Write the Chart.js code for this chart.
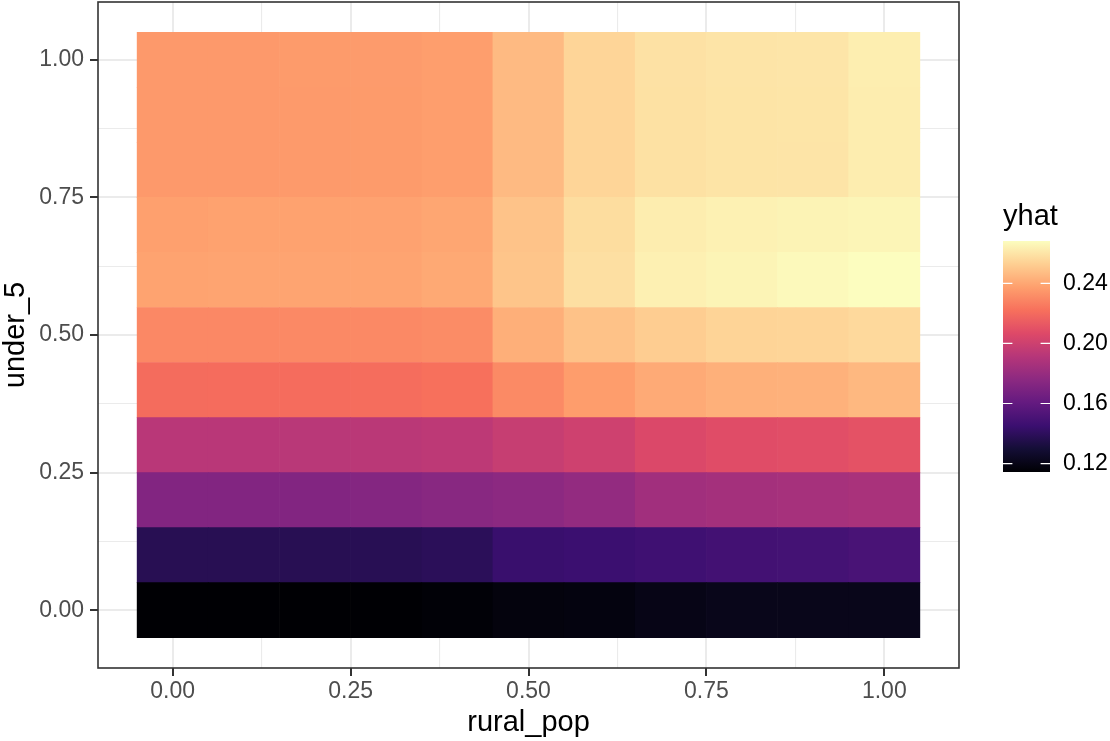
<!DOCTYPE html>
<html>
<head>
<meta charset="utf-8">
<script src="https://cdn.jsdelivr.net/npm/chart.js@4.4.1/dist/chart.umd.min.js"></script>
<style>
  html, body { margin: 0; padding: 0; background: #ffffff; }
  canvas { display: block; }
</style>
</head>
<body>
<canvas id="chart" width="1110" height="741"></canvas>
<script>
// ---------------- data ----------------
const rural_pop = [0.0, 0.1, 0.2, 0.3, 0.4, 0.5, 0.6, 0.7, 0.8, 0.9, 1.0];
const under_5   = [0.0, 0.1, 0.2, 0.3, 0.4, 0.5, 0.6, 0.7, 0.8, 0.9, 1.0];

// yhat per under_5 row, values listed along rural_pop
const yhat_u00 = [0.1144, 0.1144, 0.1145, 0.1145, 0.1152, 0.1172, 0.1178, 0.1198, 0.1212, 0.1211, 0.1213];
const yhat_u01 = [0.1375, 0.1375, 0.1376, 0.1378, 0.1390, 0.1444, 0.1452, 0.1467, 0.1482, 0.1487, 0.1505];
const yhat_u02 = [0.1721, 0.1721, 0.1722, 0.1728, 0.1744, 0.1759, 0.1785, 0.1836, 0.1847, 0.1855, 0.1865];
const yhat_u03 = [0.1925, 0.1925, 0.1926, 0.1927, 0.1940, 0.1975, 0.2005, 0.2056, 0.2079, 0.2085, 0.2102];
const yhat_u04 = [0.2205, 0.2206, 0.2206, 0.2207, 0.2221, 0.2305, 0.2368, 0.2410, 0.2428, 0.2433, 0.2454];
const yhat_u05 = [0.2300, 0.2300, 0.2301, 0.2302, 0.2313, 0.2425, 0.2487, 0.2522, 0.2545, 0.2548, 0.2562];
const yhat_u06 = [0.2387, 0.2390, 0.2390, 0.2391, 0.2405, 0.2497, 0.2582, 0.2639, 0.2651, 0.2667, 0.2682];
const yhat_u07 = [0.2377, 0.2384, 0.2384, 0.2385, 0.2396, 0.2490, 0.2574, 0.2627, 0.2642, 0.2648, 0.2656];
const yhat_u08 = [0.2354, 0.2354, 0.2359, 0.2360, 0.2371, 0.2461, 0.2548, 0.2588, 0.2597, 0.2600, 0.2628];
const yhat_u09 = [0.2354, 0.2355, 0.2359, 0.2360, 0.2371, 0.2461, 0.2548, 0.2588, 0.2597, 0.2601, 0.2628];
const yhat_u10 = [0.2355, 0.2355, 0.2360, 0.2361, 0.2372, 0.2462, 0.2549, 0.2590, 0.2599, 0.2603, 0.2631];

const yhatRows = [yhat_u00, yhat_u01, yhat_u02, yhat_u03, yhat_u04, yhat_u05,
                  yhat_u06, yhat_u07, yhat_u08, yhat_u09, yhat_u10];

const xTickValues = [0, 0.25, 0.5, 0.75, 1.0];
const xTickLabels = ['0.00', '0.25', '0.50', '0.75', '1.00'];
const yTickValues = [0, 0.25, 0.5, 0.75, 1.0];
const yTickLabels = ['0.00', '0.25', '0.50', '0.75', '1.00'];
const legendTickValues = [0.12, 0.16, 0.20, 0.24];
const legendTickLabels = ['0.12', '0.16', '0.20', '0.24'];

// ---------------- colour map (magma) ----------------
const MAGMA = ['#000004', '#140e36', '#3b0f70', '#641a80', '#8c2981', '#b63679',
               '#de4968', '#f7705c', '#fe9f6d', '#fecf92', '#fcfdbf'];
function hexRgb(h) {
  return [parseInt(h.slice(1, 3), 16), parseInt(h.slice(3, 5), 16), parseInt(h.slice(5, 7), 16)];
}
const MAGMA_RGB = MAGMA.map(hexRgb);
function magma(t) {
  t = Math.max(0, Math.min(1, t));
  const s = t * (MAGMA_RGB.length - 1);
  const i = Math.min(MAGMA_RGB.length - 2, Math.floor(s));
  const f = s - i;
  const a = MAGMA_RGB[i], b = MAGMA_RGB[i + 1];
  const c = a.map((v, k) => Math.round(v + (b[k] - v) * f));
  return 'rgb(' + c[0] + ',' + c[1] + ',' + c[2] + ')';
}

const allVals = yhatRows.flat();
const vmin = Math.min(...allVals);
const vmax = Math.max(...allVals);
const halfH = (under_5[1] - under_5[0]) / 2;
const halfW = (rural_pop[1] - rural_pop[0]) / 2;

// ggplot-like expanded limits (5% of tile extent)
const xLo = rural_pop[0] - halfW, xHi = rural_pop[rural_pop.length - 1] + halfW;
const yLo = under_5[0] - halfH, yHi = under_5[under_5.length - 1] + halfH;
const xMin = xLo - 0.05 * (xHi - xLo), xMax = xHi + 0.05 * (xHi - xLo);
const yMin = yLo - 0.05 * (yHi - yLo), yMax = yHi + 0.05 * (yHi - yLo);

const datasets = under_5.map((u, ri) => ({
  label: 'under_5 = ' + u.toFixed(1),
  data: rural_pop.map(x => ({ x: x, y: [u - halfH, u + halfH] })),
  backgroundColor: yhatRows[ri].map(v => magma((v - vmin) / (vmax - vmin))),
  borderWidth: 0,
  grouped: false,
  categoryPercentage: 1.0,
  barPercentage: 1.0
}));

const FONT = '"Liberation Sans", Arial, Helvetica, sans-serif';
function isMajor(v, list) { return list.some(t => Math.abs(t - v) < 1e-9); }
function labelFor(v, vals, labels) {
  for (let i = 0; i < vals.length; i++) if (Math.abs(vals[i] - v) < 1e-9) return labels[i];
  return '';
}

const framePlugin = {
  id: 'panelFrame',
  afterDatasetsDraw(chart) {
    const { ctx, chartArea: a } = chart;
    ctx.save();
    ctx.strokeStyle = '#333333';
    ctx.lineWidth = 1.6;
    ctx.strokeRect(a.left, a.top, a.right - a.left, a.bottom - a.top);
    ctx.restore();
  }
};

const colorbarPlugin = {
  id: 'colorbar',
  afterDraw(chart) {
    const ctx = chart.ctx;
    const left = 1003, top = 241, w = 47, h = 231;
    const bottom = top + h;
    ctx.save();
    // title
    ctx.fillStyle = '#000000';
    ctx.font = '29px ' + FONT;
    ctx.textAlign = 'left';
    ctx.textBaseline = 'alphabetic';
    ctx.fillText('yhat', left, 225);
    // gradient bar
    const g = ctx.createLinearGradient(0, bottom, 0, top);
    MAGMA.forEach((c, i) => g.addColorStop(i / (MAGMA.length - 1), c));
    ctx.fillStyle = g;
    ctx.fillRect(left, top, w, h);
    // ticks and labels
    ctx.strokeStyle = '#ffffff';
    ctx.lineWidth = 1.2;
    ctx.fillStyle = '#000000';
    ctx.font = '23px ' + FONT;
    ctx.textBaseline = 'middle';
    legendTickValues.forEach((v, i) => {
      const y = bottom - (v - vmin) / (vmax - vmin) * h;
      ctx.beginPath();
      ctx.moveTo(left, y); ctx.lineTo(left + w / 5, y);
      ctx.moveTo(left + w - w / 5, y); ctx.lineTo(left + w, y);
      ctx.stroke();
      ctx.fillText(legendTickLabels[i], 1063, y);
    });
    ctx.restore();
  }
};

function zeroPad(s) { s.paddingTop = 0; s.paddingBottom = 0; s.paddingLeft = 0; s.paddingRight = 0; }

new Chart(document.getElementById('chart'), {
  type: 'bar',
  data: { datasets: datasets },
  options: {
    responsive: false,
    animation: false,
    events: [],
    devicePixelRatio: 1,
    layout: { padding: { left: 0, top: 2, right: 151, bottom: 0 }, autoPadding: false },
    plugins: { legend: { display: false }, tooltip: { enabled: false } },
    scales: {
      x: {
        type: 'linear',
        position: 'bottom',
        min: xMin, max: xMax,
        offset: false,
        afterFit: s => { s.height = 73; zeroPad(s); },
        border: { display: false },
        grid: {
          offset: false,
          color: '#EBEBEB',
          lineWidth: c => isMajor(c.tick.value, xTickValues) ? 2 : 1.1,
          tickColor: c => isMajor(c.tick.value, xTickValues) ? '#333333' : 'rgba(0,0,0,0)',
          tickWidth: 2,
          tickLength: 8
        },
        ticks: {
          stepSize: 0.125,
          includeBounds: false,
          autoSkip: false,
          maxRotation: 0,
          minRotation: 0,
          maxTicksLimit: 30,
          padding: 2,
          color: '#4D4D4D',
          font: { family: FONT, size: 23 },
          callback: v => labelFor(v, xTickValues, xTickLabels)
        },
        title: {
          display: true,
          text: 'rural_pop',
          color: '#000000',
          font: { family: FONT, size: 29, lineHeight: 1.1 },
          padding: { top: 0, bottom: 2 }
        }
      },
      y: {
        type: 'linear',
        position: 'left',
        min: yMin, max: yMax,
        afterFit: s => { s.width = 98; zeroPad(s); },
        border: { display: false },
        grid: {
          color: '#EBEBEB',
          lineWidth: c => isMajor(c.tick.value, yTickValues) ? 2 : 1.1,
          tickColor: c => isMajor(c.tick.value, yTickValues) ? '#333333' : 'rgba(0,0,0,0)',
          tickWidth: 2,
          tickLength: 8
        },
        ticks: {
          stepSize: 0.125,
          includeBounds: false,
          autoSkip: false,
          maxTicksLimit: 30,
          padding: 6,
          color: '#4D4D4D',
          font: { family: FONT, size: 23 },
          callback: v => labelFor(v, yTickValues, yTickLabels)
        },
        title: {
          display: true,
          text: 'under_5',
          color: '#000000',
          font: { family: FONT, size: 29, lineHeight: 1.1 },
          padding: { top: 0, bottom: 0 }
        }
      }
    }
  },
  plugins: [framePlugin, colorbarPlugin]
});
</script>
</body>
</html>
